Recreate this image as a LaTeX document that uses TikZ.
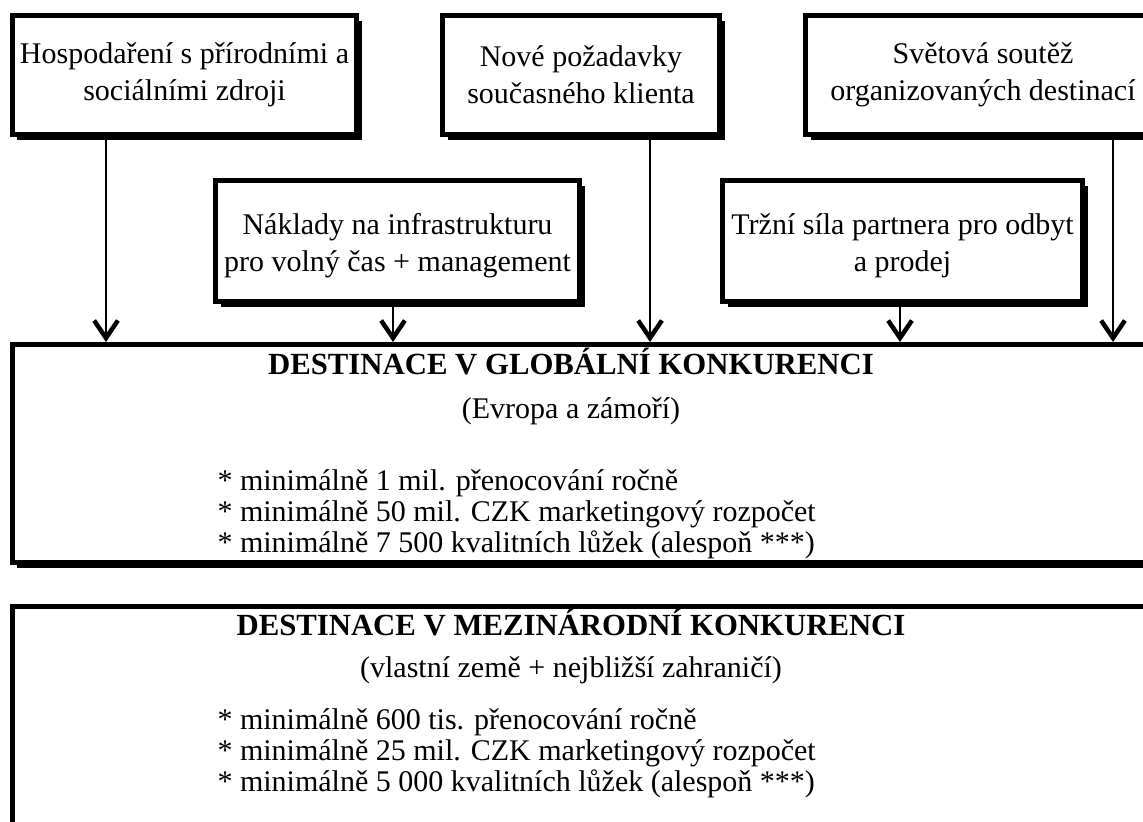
\documentclass[tikz,border=0pt]{standalone}
\usepackage{fontspec}
\setmainfont{Liberation Serif}
\usetikzlibrary{arrows.meta,shadows}
\begin{document}
\begin{tikzpicture}[x=0.4pt,y=-0.4pt,
  txt/.style={font=\fontsize{12}{13.8}\selectfont},
  btx/.style={font=\fontsize{12}{14.8}\selectfont},
  bx/.style={btx, draw, line width=2pt, fill=white, inner sep=0pt, align=center,
    drop shadow={shadow xshift=2pt, shadow yshift=-2pt, opacity=1, fill=black}},
  btxt/.style={btx, inner sep=0pt, align=center},
  arr/.style={line width=1pt, -{Straight Barb[length=7pt,width=9.5pt,line width=1.8pt]}},
  ttl/.style={font=\fontsize{12.3}{14}\selectfont\bfseries, inner sep=0pt, text height=8.5pt, text depth=2.5pt},
  sub/.style={txt, inner sep=0pt, text height=8.5pt, text depth=2.5pt},
  item/.style={txt, inner sep=0pt, anchor=west, text height=8.5pt, text depth=2.5pt}
]
\useasboundingbox[fill=white] (0,0) rectangle (1143,821);
% top row
\node[bx, minimum width=137.6pt, minimum height=47.6pt] (A) at (184.5,75) {Hospodaření s přírodními a\\sociálními zdroji};
\node[bx, minimum width=110.8pt, minimum height=47.6pt] (B) at (581,75) {Nové požadavky\\současného klienta};
\node[bx, minimum width=142pt, minimum height=47.6pt] (C) at (983,75) {Světová soutěž\\organizovaných destinací};
% second row
\node[bx, minimum width=145.6pt, minimum height=48.4pt] (D) at (397.5,241) {};
\node[btxt] (Dt) at ([yshift=-2pt]D.center) {Náklady na infrastrukturu\\pro volný čas + management};
\node[bx, minimum width=144pt, minimum height=48.4pt] (E) at (902.5,241) {};
\node[btxt] (Et) at ([yshift=-2pt]E.center) {Tržní síla partnera pro odbyt\\a prodej};
% big boxes
\node[bx, minimum width=495pt, minimum height=87.2pt] (G) at (631.25,453.5) {};
\node[bx, minimum width=495pt, minimum height=137.4pt] (M) at (631.25,778.25) {};
% texts of G
\node[ttl] (g1) at (571,367) {DESTINACE V GLOBÁLNÍ KONKURENCI};
\node[sub] (g2) at (571,411) {(Evropa a zámoří)};
\node[item] (g3) at (217,483) {* minimálně 1 mil. přenocování ročně};
\node[item] (g4) at (217,514) {* minimálně 50 mil. CZK marketingový rozpočet};
\node[item] (g5) at (217,545) {* minimálně 7 500 kvalitních lůžek (alespoň ***)};
% texts of M
\node[ttl] (m1) at (571,628) {DESTINACE V MEZINÁRODNÍ KONKURENCI};
\node[sub] (m2) at (571,670) {(vlastní země + nejbližší zahraničí)};
\node[item] (m3) at (217,722) {* minimálně 600 tis. přenocování ročně};
\node[item] (m4) at (217,753) {* minimálně 25 mil. CZK marketingový rozpočet};
\node[item] (m5) at (217,784) {* minimálně 5 000 kvalitních lůžek (alespoň ***)};
% arrows
\coordinate (x1) at (106,0);
\coordinate (x2) at (393,0);
\coordinate (x3) at (650,0);
\coordinate (x4) at (900,0);
\coordinate (x5) at (1113,0);
\draw[arr] (x1 |- A.south) -- (x1 |- G.north);
\draw[arr] (x2 |- D.south) -- (x2 |- G.north);
\draw[arr] (x3 |- B.south) -- (x3 |- G.north);
\draw[arr] (x4 |- E.south) -- (x4 |- G.north);
\draw[arr] (x5 |- C.south) -- (x5 |- G.north);
\end{tikzpicture}
\end{document}
